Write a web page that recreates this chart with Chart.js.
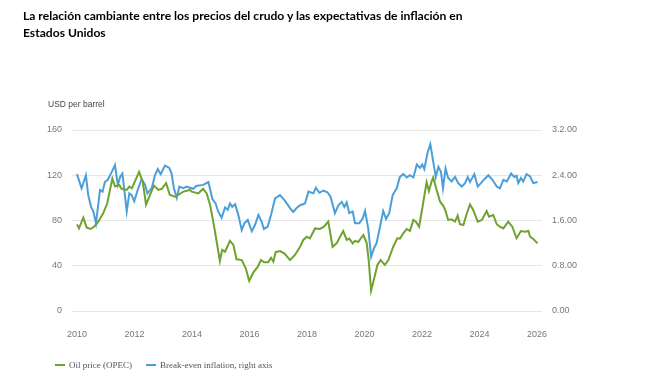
<!DOCTYPE html>
<html>
<head>
<meta charset="utf-8">
<script src="https://cdn.jsdelivr.net/npm/chart.js@4"></script>
<style>
  body { margin: 0; background: #fff; }
  #wrap { position: relative; width: 654px; height: 376px; }
  #title { position: absolute; left: 23px; top: 7px; font: bold 12.1px Lato, sans-serif; line-height: 17px; color: #000; width: 455px; }
  #unit { position: absolute; left: 48px; top: 99px; font: 8.5px "Liberation Sans", sans-serif; color: #444; }
  #legend { position: absolute; left: 55px; top: 360px; font: 9px "Liberation Serif", serif; color: #555; display: flex; }
  #legend span.item { display: flex; align-items: center; margin-right: 14px; }
  #legend span.swatch { display: inline-block; width: 10px; height: 2px; margin-right: 4px; }
  canvas { position: absolute; left: 0; top: 0; }
</style>
</head>
<body>
<div id="wrap">
  <canvas id="chart" width="654" height="376"></canvas>
  <div id="title">La relación cambiante entre los precios del crudo y las expectativas de inflación en Estados Unidos</div>
  <div id="unit">USD per barrel</div>
  <div id="legend"></div>
</div>
<script>
const xTicks = [2010, 2012, 2014, 2016, 2018, 2020, 2022, 2024, 2026];
const leftTicks = [0, 40, 80, 120, 160];
const rightTicks = [0, 0.8, 1.6, 2.4, 3.2];
const rightTickLabels = ["0.00", "0.8.00", "1.6.00", "2.4.00", "3.2.00"];

// Oil price (OPEC), USD per barrel
const oilYears = [
  2010.0, 2010.07, 2010.22, 2010.34, 2010.48, 2010.63, 2010.74, 2010.91, 2011.05, 2011.23,
  2011.32, 2011.47, 2011.55, 2011.73, 2011.82, 2011.91, 2012.16, 2012.29, 2012.4, 2012.54,
  2012.68, 2012.83, 2012.95, 2013.1, 2013.23, 2013.41, 2013.7, 2013.93, 2013.99, 2014.22,
  2014.39, 2014.51, 2014.63, 2014.74, 2014.86, 2014.97, 2015.05, 2015.15, 2015.32, 2015.44,
  2015.55, 2015.73, 2015.87, 2015.99, 2016.13, 2016.29, 2016.4, 2016.51, 2016.65, 2016.75,
  2016.83, 2016.91, 2017.06, 2017.21, 2017.41, 2017.58, 2017.76, 2017.87, 2017.99, 2018.1,
  2018.28, 2018.45, 2018.59, 2018.74, 2018.89, 2019.03, 2019.15, 2019.26, 2019.38, 2019.47,
  2019.59, 2019.67, 2019.78, 2019.96, 2020.08, 2020.15, 2020.23, 2020.31, 2020.45, 2020.56,
  2020.71, 2020.83, 2021.0, 2021.14, 2021.23, 2021.35, 2021.47, 2021.58, 2021.7, 2021.79,
  2021.9, 2022.01, 2022.16, 2022.24, 2022.34, 2022.39, 2022.51, 2022.63, 2022.74, 2022.82,
  2022.91, 2023.03, 2023.15, 2023.24, 2023.32, 2023.44, 2023.55, 2023.67, 2023.78, 2023.94,
  2024.08, 2024.25, 2024.33, 2024.48, 2024.6, 2024.71, 2024.83, 2025.0, 2025.14, 2025.29,
  2025.44, 2025.58, 2025.7, 2025.76, 2025.87, 2026.02
];
const oilPrices = [
  76.6, 73, 82.5, 73.7, 72.5, 75.4, 79, 86.4, 95, 117,
  110, 111.4, 108, 107, 110, 108.5, 123, 114, 94, 102.6,
  110.8, 107, 108, 113, 102.6, 101, 105.5, 107, 105.5, 104,
  108, 104, 93.7, 79, 61, 44.2, 54, 52.4, 62, 58.4,
  45.7, 45, 37.7, 26.5, 33.9, 39.2, 45, 43, 43, 47,
  43.6, 52, 53, 51, 45, 49.5, 56.8, 62.8, 65.7, 64.2,
  73, 72.5, 74.5, 79, 56.8, 59.8, 65.7, 70.7, 62.8, 64,
  59.8, 62, 61, 67.2, 59.8, 43.6, 18, 26, 40.7, 45,
  40.7, 45, 56.8, 64.3, 64, 68.7, 72.5, 70.7, 80.5, 79,
  74.5, 90.8, 113.8, 106, 115, 118, 107, 96.6, 93, 88.4,
  80.5, 81, 79, 84.3, 76.7, 76, 85.5, 94.3, 89.3, 79,
  80.5, 88.4, 83.4, 84.9, 76.7, 74.5, 73, 79, 74.5, 64.3,
  70.7, 70, 70.7, 65.7, 63.7, 59.8
];

// Break-even inflation, per cent (right axis)
const beYears = [
  2010.0, 2010.05, 2010.16, 2010.31, 2010.39, 2010.49, 2010.57, 2010.66, 2010.8, 2010.89,
  2010.97, 2011.07, 2011.21, 2011.32, 2011.42, 2011.5, 2011.58, 2011.73, 2011.82, 2011.9,
  2011.99, 2012.13, 2012.25, 2012.37, 2012.45, 2012.6, 2012.71, 2012.81, 2012.91, 2013.06,
  2013.21, 2013.29, 2013.37, 2013.47, 2013.56, 2013.7, 2013.82, 2013.93, 2014.05, 2014.14,
  2014.39, 2014.57, 2014.71, 2014.82, 2014.91, 2015.03, 2015.15, 2015.24, 2015.32, 2015.4,
  2015.5, 2015.61, 2015.73, 2015.82, 2015.94, 2016.08, 2016.19, 2016.31, 2016.42, 2016.5,
  2016.63, 2016.75, 2016.89, 2017.06, 2017.23, 2017.41, 2017.52, 2017.64, 2017.76, 2017.93,
  2018.05, 2018.22, 2018.31, 2018.43, 2018.57, 2018.71, 2018.82, 2018.97, 2019.09, 2019.21,
  2019.3, 2019.38, 2019.47, 2019.59, 2019.67, 2019.82, 2019.94, 2020.02, 2020.13, 2020.23,
  2020.33, 2020.42, 2020.54, 2020.65, 2020.75, 2020.86, 2020.98, 2021.12, 2021.23, 2021.35,
  2021.47, 2021.58, 2021.7, 2021.82, 2021.93, 2022.01, 2022.08, 2022.2, 2022.29, 2022.39,
  2022.48, 2022.57, 2022.66, 2022.73, 2022.82, 2022.91, 2023.03, 2023.15, 2023.26, 2023.38,
  2023.5, 2023.59, 2023.67, 2023.82, 2023.94, 2024.05, 2024.17, 2024.31, 2024.45, 2024.6,
  2024.71, 2024.83, 2024.95, 2025.1, 2025.21, 2025.29, 2025.35, 2025.44, 2025.52, 2025.64,
  2025.76, 2025.87, 2026.02
];
const beRates = [
  2.42, 2.34, 2.17, 2.40, 2.05, 1.84, 1.76, 1.55, 2.14, 2.11,
  2.28, 2.32, 2.46, 2.58, 2.23, 2.37, 2.43, 1.76, 2.08, 2.05,
  1.94, 2.17, 2.33, 2.23, 2.08, 2.17, 2.40, 2.51, 2.42, 2.57,
  2.53, 2.43, 2.17, 2.00, 2.20, 2.17, 2.20, 2.18, 2.16, 2.21,
  2.23, 2.28, 1.98, 1.90, 1.76, 1.65, 1.83, 1.79, 1.90, 1.84,
  1.89, 1.70, 1.43, 1.55, 1.61, 1.41, 1.52, 1.70, 1.58, 1.45,
  1.49, 1.70, 1.99, 2.05, 1.95, 1.82, 1.75, 1.82, 1.87, 1.90,
  2.11, 2.08, 2.18, 2.09, 2.13, 2.10, 2.02, 1.73, 1.87, 1.93,
  1.84, 1.92, 1.73, 1.76, 1.55, 1.55, 1.64, 1.77, 1.46, 0.96,
  1.11, 1.20, 1.49, 1.77, 1.63, 1.73, 2.05, 2.17, 2.37, 2.42,
  2.36, 2.40, 2.36, 2.59, 2.53, 2.59, 2.51, 2.81, 2.95, 2.64,
  2.37, 2.55, 2.46, 2.17, 2.52, 2.35, 2.29, 2.37, 2.26, 2.20,
  2.26, 2.37, 2.28, 2.42, 2.20, 2.26, 2.33, 2.40, 2.32, 2.20,
  2.17, 2.32, 2.29, 2.43, 2.37, 2.39, 2.26, 2.35, 2.29, 2.42,
  2.38, 2.26, 2.28
];

const GREEN = "#6fa22f";
const BLUE = "#4b9fd9";
const tickFont = { family: "Liberation Sans", size: 9 };

const datasets = [
  {
    label: "Oil price (OPEC)",
    data: oilYears.map((x, i) => ({ x, y: oilPrices[i] })),
    borderColor: GREEN,
    backgroundColor: GREEN,
    yAxisID: "y"
  },
  {
    label: "Break-even inflation, right axis",
    data: beYears.map((x, i) => ({ x, y: beRates[i] })),
    borderColor: BLUE,
    backgroundColor: BLUE,
    yAxisID: "y1"
  }
];

new Chart(document.getElementById("chart"), {
  type: "line",
  data: { datasets },
  options: {
    responsive: false,
    animation: false,
    layout: { padding: { left: 30, top: 130, right: 0, bottom: 0 } },
    elements: {
      line: { borderWidth: 2, tension: 0 },
      point: { radius: 0 }
    },
    plugins: {
      legend: { display: false },
      tooltip: { enabled: false }
    },
    scales: {
      x: {
        type: "linear",
        min: 2009.826,
        max: 2026.174,
        afterBuildTicks: s => { s.ticks = xTicks.map(v => ({ value: v })); },
        afterFit: s => { s.height = 65; },
        grid: { display: false },
        border: { display: false },
        ticks: { padding: 10, color: "#777", font: tickFont, callback: v => String(v), maxRotation: 0 }
      },
      y: {
        position: "left",
        min: 0,
        max: 160,
        afterBuildTicks: s => { s.ticks = leftTicks.map(v => ({ value: v })); },
        afterFit: s => { s.width = 42; },
        grid: { color: "#e6e6e6", drawTicks: false },
        border: { display: false },
        ticks: { padding: 10, color: "#777", font: tickFont }
      },
      y1: {
        position: "right",
        min: 0,
        max: 3.2,
        afterBuildTicks: s => { s.ticks = rightTicks.map(v => ({ value: v })); },
        afterFit: s => { s.width = 112; },
        grid: { display: false, drawTicks: false },
        border: { display: false },
        ticks: { padding: 10, color: "#777", font: tickFont, callback: (v, i) => rightTickLabels[i] }
      }
    }
  }
});

// legend built from the datasets
const legendEl = document.getElementById("legend");
datasets.forEach(ds => {
  const item = document.createElement("span");
  item.className = "item";
  const sw = document.createElement("span");
  sw.className = "swatch";
  sw.style.background = ds.borderColor;
  item.appendChild(sw);
  item.appendChild(document.createTextNode(ds.label));
  legendEl.appendChild(item);
});
</script>
</body>
</html>
